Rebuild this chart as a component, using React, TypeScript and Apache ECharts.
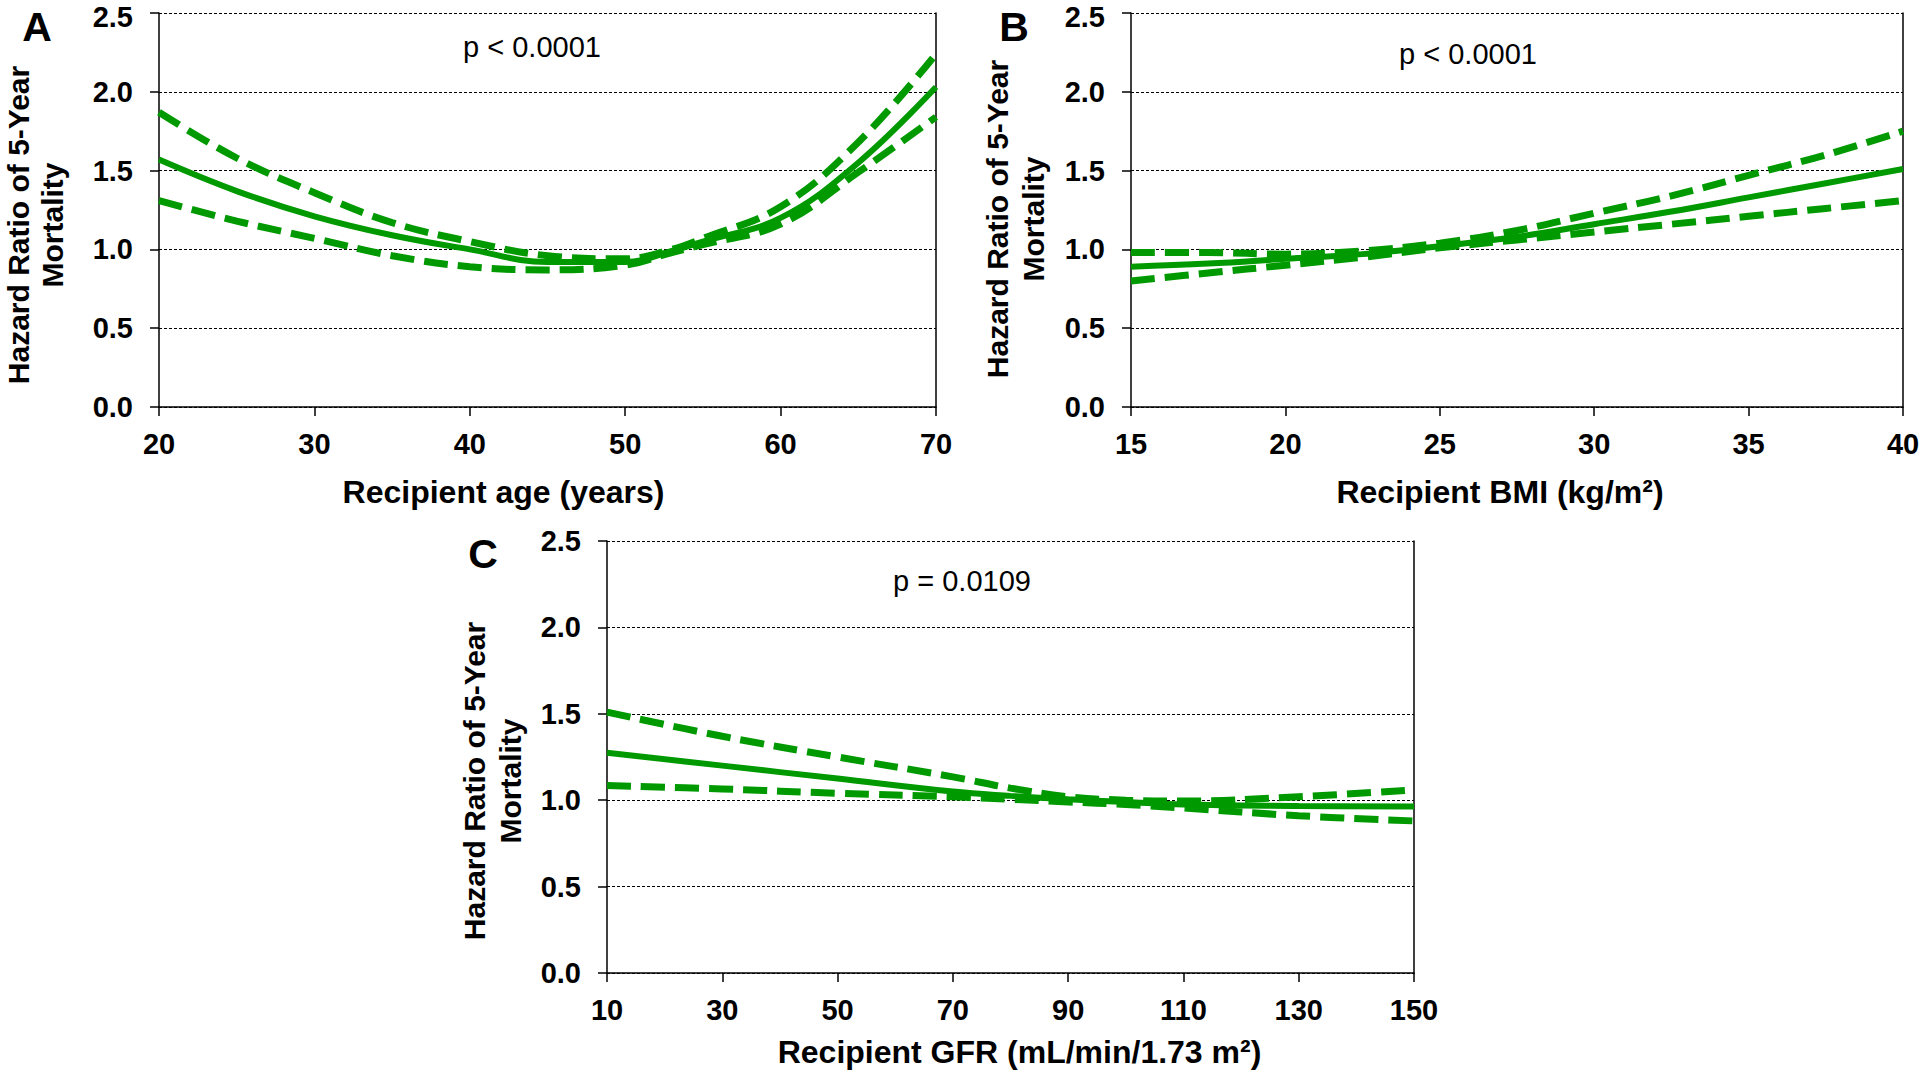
import React, { useEffect, useRef } from "react";
import * as echarts from "echarts";

// ---------- data ----------
const ageX = [20, 25, 30, 35, 40, 45, 50, 53, 55, 60, 65, 70];
const ageHR = [1.57, 1.37, 1.21, 1.09, 1.0, 0.92, 0.92, 0.99, 1.05, 1.2, 1.55, 2.03];
const ageUpper = [1.87, 1.58, 1.36, 1.17, 1.05, 0.96, 0.94, 1.0, 1.07, 1.27, 1.68, 2.24];
const ageLower = [1.31, 1.18, 1.07, 0.96, 0.89, 0.87, 0.9, 0.98, 1.03, 1.16, 1.49, 1.84];

const bmiX = [15, 17.5, 20, 22.5, 25, 27.5, 30, 32.5, 35, 37.5, 40];
const bmiHR = [0.89, 0.91, 0.94, 0.97, 1.02, 1.08, 1.16, 1.24, 1.33, 1.42, 1.51];
const bmiUpper = [0.98, 0.98, 0.97, 0.99, 1.04, 1.12, 1.23, 1.34, 1.47, 1.6, 1.75];
const bmiLower = [0.8, 0.85, 0.9, 0.95, 1.01, 1.06, 1.11, 1.16, 1.21, 1.26, 1.31];

const gfrX = [10, 30, 50, 70, 80, 90, 100, 110, 130, 150];
const gfrHR = [1.275, 1.2, 1.125, 1.05, 1.025, 1.005, 0.99, 0.975, 0.967, 0.963];
const gfrUpper = [1.51, 1.37, 1.25, 1.135, 1.07, 1.02, 1.0, 0.995, 1.02, 1.06];
const gfrLower = [1.085, 1.065, 1.04, 1.02, 1.005, 0.99, 0.975, 0.955, 0.91, 0.88];

const gfrTicks = [10, 30, 50, 70, 90, 110, 130, 150];

const panelLetters = ["A", "B", "C"];
const pValues = ["p < 0.0001", "p < 0.0001", "p = 0.0109"];
const xTitles = [
  "Recipient age (years)",
  "Recipient BMI (kg/m\u00b2)",
  "Recipient GFR (mL/min/1.73 m\u00b2)",
];
const yTitle = "Hazard Ratio of 5-Year\nMortality";

// ---------- styling ----------
const GREEN = "#009a00";
const FONT = "'Liberation Sans', Arial, Helvetica, sans-serif";

const zip = (xs: number[], ys: number[]) => xs.map((x, i) => [x, ys[i]]);

export default function App() {
  const ref = useRef<HTMLDivElement>(null);

  useEffect(() => {
    if (!ref.current) return;
    const chart = echarts.init(ref.current, undefined, { renderer: "svg" });

    const grids = [
      { left: 159, top: 13, width: 777, height: 394 },
      { left: 1131, top: 13, width: 772, height: 394 },
      { left: 607, top: 541, width: 807, height: 432 },
    ].map((g) => ({ ...g, containLabel: false, outerBoundsMode: "none", show: false }));

    const axisLineStyle = { color: "#000", width: 1.5 };
    const tickLabel = {
      fontSize: 29,
      fontWeight: "bold",
      color: "#000",
      fontFamily: FONT,
      lineHeight: 22,
    };

    const xCfg = [
      { min: 20, max: 70, interval: 10, nameGap: 69, pad: [0, 88, 0, 0] },
      { min: 15, max: 40, interval: 5, nameGap: 69, pad: [0, 34, 0, 0] },
      { min: 10, max: 150, custom: gfrTicks, nameGap: 63, pad: [0, 0, 0, 18] },
    ];

    const xAxis = xCfg.map((c, i) => {
      const base: any = {
        gridIndex: i,
        type: "value",
        min: c.min,
        max: c.max,
        name: xTitles[i],
        nameLocation: "middle",
        nameGap: c.nameGap,
        nameTextStyle: {
          fontSize: 32,
          fontWeight: "bold",
          color: "#000",
          fontFamily: FONT,
          padding: c.pad,
        },
        axisLine: { show: true, onZero: false, lineStyle: axisLineStyle },
        axisTick: { show: true, inside: false, length: 9, lineStyle: axisLineStyle },
        axisLabel: { ...tickLabel, margin: 26, showMinLabel: true, showMaxLabel: true },
        splitLine: { show: false },
      };
      if (c.custom) {
        base.axisTick.customValues = c.custom;
        base.axisLabel.customValues = c.custom;
      } else {
        base.interval = c.interval;
      }
      return base;
    });

    const yCfg = [
      { nameGap: 90, lh: 34, pad: [0, 30, 0, 0], topShift: true },
      { nameGap: 80, lh: 36, pad: [0, 18, 0, 0], topShift: true },
      { nameGap: 79, lh: 36, pad: [0, 48, 0, 0], topShift: false },
    ];

    const yAxis: any[] = [];
    yCfg.forEach((c, i) => {
      yAxis.push({
        gridIndex: i,
        type: "value",
        min: 0,
        max: 2.5,
        interval: 0.5,
        name: yTitle,
        nameLocation: "middle",
        nameRotate: 90,
        nameGap: c.nameGap,
        nameTextStyle: {
          fontSize: 30,
          fontWeight: "bold",
          color: "#000",
          fontFamily: FONT,
          lineHeight: c.lh,
          align: "center",
          padding: c.pad,
        },
        axisLine: { show: true, onZero: false, lineStyle: axisLineStyle },
        axisTick: { show: true, inside: false, length: 9, lineStyle: axisLineStyle },
        axisLabel: {
          ...tickLabel,
          margin: 26,
          showMinLabel: true,
          showMaxLabel: true,
          formatter: (v: number) =>
            c.topShift && v === 2.5 ? "{t|" + v.toFixed(1) + "}" : v.toFixed(1),
          rich: {
            t: {
              fontSize: 29,
              fontWeight: "bold",
              color: "#000",
              fontFamily: FONT,
              lineHeight: 29,
              padding: [8, 0, 0, 0],
            },
          },
        },
        splitLine: {
          show: true,
          lineStyle: { color: "#000", width: 1, type: [3, 2] },
        },
      });
      yAxis.push({
        gridIndex: i,
        type: "value",
        min: 0,
        max: 2.5,
        position: "right",
        axisLine: { show: true, onZero: false, lineStyle: axisLineStyle },
        axisTick: { show: false },
        axisLabel: { show: false },
        splitLine: { show: false },
      });
    });

    const panels = [
      { x: ageX, hr: ageHR, up: ageUpper, lo: ageLower },
      { x: bmiX, hr: bmiHR, up: bmiUpper, lo: bmiLower },
      { x: gfrX, hr: gfrHR, up: gfrUpper, lo: gfrLower },
    ];

    const series: any[] = [];
    panels.forEach((p, i) => {
      const common = {
        type: "line",
        xAxisIndex: i,
        yAxisIndex: i * 2,
        smooth: 0.4,
        showSymbol: false,
        symbol: "none",
        silent: true,
        clip: true,
      };
      series.push({
        ...common,
        name: "Upper 95% CI " + panelLetters[i],
        data: zip(p.x, p.up),
        lineStyle: { color: GREEN, width: 7, type: [24, 10] },
        z: 2,
      });
      series.push({
        ...common,
        name: "Lower 95% CI " + panelLetters[i],
        data: zip(p.x, p.lo),
        lineStyle: { color: GREEN, width: 7, type: [24, 10] },
        z: 2,
      });
      series.push({
        ...common,
        name: "Hazard ratio " + panelLetters[i],
        data: zip(p.x, p.hr),
        lineStyle: { color: GREEN, width: 6, type: "solid" },
        z: 3,
      });
    });

    const letterPos = [
      [37, 27],
      [1014, 27],
      [483, 554],
    ];
    const pPos = [
      [532, 47],
      [1468, 54],
      [962, 581],
    ];

    const graphic: any[] = [];
    panelLetters.forEach((L, i) => {
      graphic.push({
        type: "text",
        x: letterPos[i][0],
        y: letterPos[i][1],
        silent: true,
        style: {
          text: L,
          fontSize: 41,
          fontWeight: "bold",
          fontFamily: FONT,
          fill: "#000",
          align: "center",
          verticalAlign: "middle",
        },
      });
      graphic.push({
        type: "text",
        x: pPos[i][0],
        y: pPos[i][1],
        silent: true,
        style: {
          text: pValues[i],
          fontSize: 29,
          fontFamily: FONT,
          fill: "#000",
          align: "center",
          verticalAlign: "middle",
        },
      });
    });

    chart.setOption({
      animation: false,
      backgroundColor: "#fff",
      grid: grids,
      xAxis,
      yAxis,
      series,
      graphic,
    });

    return () => chart.dispose();
  }, []);

  return (
    <div
      ref={ref}
      style={{
        position: "fixed",
        left: 0,
        top: 0,
        width: 1920,
        height: 1071,
        background: "#fff",
      }}
    />
  );
}
